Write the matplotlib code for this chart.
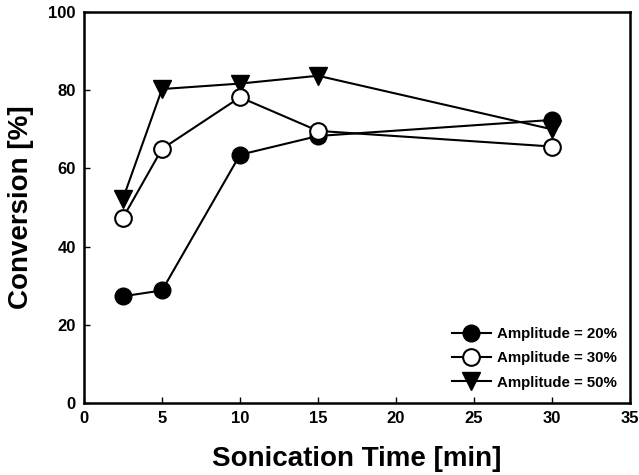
import matplotlib
matplotlib.use("Agg")
import matplotlib.pyplot as plt

time_min = [2.5, 5, 10, 15, 30]
amp20 = [27.3, 28.8, 63.5, 68.3, 72.4]
amp30 = [47.4, 65.0, 78.2, 69.6, 65.6]
amp50 = [52.3, 80.3, 81.7, 83.7, 70.0]
labels = ["Amplitude = 20%", "Amplitude = 30%", "Amplitude = 50%"]
xticks = [0, 5, 10, 15, 20, 25, 30, 35]
yticks = [0, 20, 40, 60, 80, 100]

plt.rcParams['font.family'] = ['Liberation Sans', 'DejaVu Sans']
fig = plt.figure(figsize=(6.39, 4.75), dpi=100)
ax = fig.add_axes([0.1315, 0.1515, 0.8545, 0.8232])

ax.plot(time_min, amp20, color='black', lw=1.5, marker='o', ms=12,
        mfc='black', mec='black', label=labels[0], zorder=3)
ax.plot(time_min, amp30, color='black', lw=1.5, marker='o', ms=12,
        mfc='white', mec='black', mew=1.5, label=labels[1], zorder=4)
ax.plot(time_min, amp50, color='black', lw=1.5, marker='v', ms=13,
        mfc='black', mec='black', label=labels[2], zorder=2)

ax.set_xlim(0, 35)
ax.set_ylim(0, 100)
ax.set_xticks(xticks)
ax.set_yticks(yticks)
ax.tick_params(direction='in', length=4, width=1, labelsize=12, pad=6)
for lab in ax.get_xticklabels() + ax.get_yticklabels():
    lab.set_fontweight('bold')
for s in ax.spines.values():
    s.set_linewidth(1.8)

ax.set_xlabel("Sonication Time [min]", fontsize=20, fontweight='bold', labelpad=14)
ax.set_ylabel("Conversion [%]", fontsize=20, fontweight='bold', labelpad=10)

leg = ax.legend(loc='lower right', frameon=False,
                prop={'weight': 'bold', 'size': 10.8}, handlelength=2.6,
                handletextpad=0.4, labelspacing=0.68, borderaxespad=0.5)

fig.savefig("out.png", dpi=100)
